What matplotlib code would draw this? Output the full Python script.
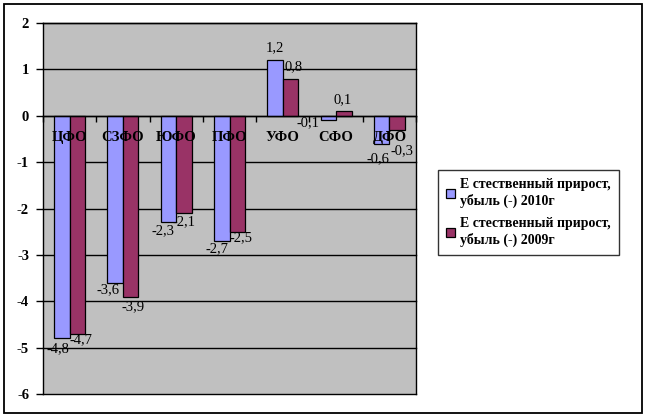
import matplotlib
matplotlib.use("Agg")
import matplotlib.pyplot as plt
from matplotlib.patches import Rectangle
import numpy as np

categories = ["ЦФО", "СЗФО", "ЮФО", "ПФО", "УФО", "СФО", "ДФО"]
values_2010 = [-4.8, -3.6, -2.3, -2.7, 1.2, -0.1, -0.6]
values_2009 = [-4.7, -3.9, -2.1, -2.5, 0.8, 0.1, -0.3]
series_labels = ["Е стественный прирост,\nубыль (-) 2010г",
                 "Е стественный прирост,\nубыль (-) 2009г"]
yticks = [-6, -5, -4, -3, -2, -1, 0, 1, 2]

# label offsets in pixels (dx right, dy down) relative to bar end
off_2010 = [(-4, 10), (-7, 7), (-5, 8), (-5, 8), (0, -12), (-20, 2), (-4, 15)]
off_2009 = [(4, 6), (2, 10), (0, 9), (4, 6), (3, -12), (-1, -11), (5, 21)]

plt.rcParams['axes.unicode_minus'] = False
SERIF = ["Liberation Serif", "DejaVu Serif"]
FS = 10.5
C1 = "#9999FF"
C2 = "#993366"
GRAY = "#C0C0C0"

W, H = 647, 418
fig = plt.figure(figsize=(W / 100, H / 100), dpi=100)
fig.patch.set_facecolor("white")

# outer border
fig.add_artist(Rectangle((4 / W, 1 - 413 / H), (642 - 4) / W, (413 - 4) / H,
                         transform=fig.transFigure, fill=False,
                         edgecolor="black", linewidth=1.3))

left, right, top, bottom = 43, 416, 23, 394
ax = fig.add_axes([left / W, 1 - bottom / H, (right - left) / W, (bottom - top) / H])
ax.set_facecolor(GRAY)

x = np.arange(len(categories))
bw = 0.29
b1 = ax.bar(x - bw / 2, values_2010, bw, color=C1, edgecolor="black", linewidth=0.9, zorder=3)
b2 = ax.bar(x + bw / 2, values_2009, bw, color=C2, edgecolor="black", linewidth=0.9, zorder=3)

ax.set_xlim(-0.5, len(categories) - 0.5)
ax.set_ylim(-6, 2)
ax.set_yticks(yticks)
ax.set_yticklabels([str(t) for t in yticks], fontfamily=SERIF, fontweight="bold", fontsize=FS)
for t in yticks:
    ax.axhline(t, color="black", linewidth=1.0, zorder=1, clip_on=False)

for s in ["left", "right", "top"]:
    ax.spines[s].set_color("black")
    ax.spines[s].set_linewidth(1.0)
ax.spines["bottom"].set_position(("data", 0))
ax.spines["bottom"].set_linewidth(1.0)
ax.spines["bottom"].set_zorder(4)
ax.set_xticks(np.arange(len(categories) + 1) - 0.5)
ax.set_xticklabels([])
ax.tick_params(axis="x", direction="out", length=4, width=1, color="black")
ax.tick_params(axis="y", direction="out", length=5, width=1, color="black", pad=5)

# category labels below the zero line
for i, c in enumerate(categories):
    ax.annotate(c, (i, 0), xytext=(0, -22 * 0.72), textcoords="offset points",
                ha="center", va="center", fontfamily=SERIF, fontweight="bold",
                fontsize=FS, zorder=6)

def fmt(v):
    return ("%.1f" % v).replace(".", ",")

for vals, offs, sign in [(values_2010, off_2010, -1), (values_2009, off_2009, 1)]:
    for i, v in enumerate(vals):
        dx, dy = offs[i]
        ax.annotate(fmt(v), (i + sign * bw / 2, v), xytext=(dx * 0.72, -dy * 0.72),
                    textcoords="offset points", ha="center", va="center",
                    fontfamily=SERIF, fontsize=FS, zorder=7, annotation_clip=False)

leg = fig.legend([b1, b2], series_labels, loc="upper left",
                 bbox_to_anchor=(438 / W, 1 - 170 / H),
                 prop={"family": SERIF, "weight": "bold", "size": 10},
                 frameon=True, fancybox=False, edgecolor="black",
                 handlelength=0.6, handleheight=0.6, handletextpad=0.4,
                 labelspacing=0.7, borderpad=0.6, borderaxespad=0)
leg.get_frame().set_linewidth(1.0)

fig.savefig("out.png", dpi=100, facecolor="white")
